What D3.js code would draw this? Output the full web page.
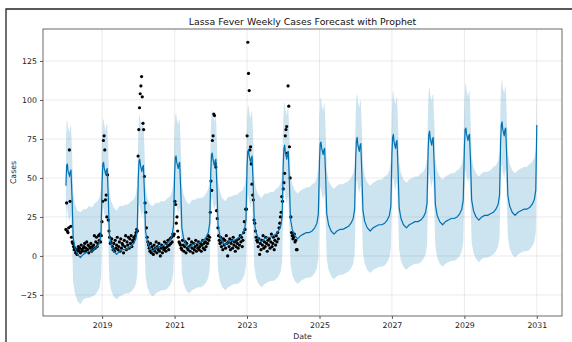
<!DOCTYPE html>
<html>
<head>
<meta charset="utf-8">
<script src="https://cdn.jsdelivr.net/npm/d3@7"></script>
<style>
body { margin: 0; background: #fff; }
svg { display: block; font-family: "DejaVu Sans", sans-serif; }
</style>
</head>
<body>
<svg id="chart" width="572" height="342"></svg>
<script>
// observed weekly cases, weeks counted from 2018-01-01
cases2018 = [17, 34, 16, 15, 18, 68, 35, 19, 12, 9, 8, 6, 4, 5, 2, 3, 1, 4, 6, 3, 5, 2, 7, 4, 3, 5, 6, 8, 3, 5, 9, 4, 7, 2, 6, 5, 8, 3, 6, 4, 7, 13, 5, 9, 12, 6, 8, 13, 10, 14, 9, 13];
cases2019 = [22, 35, 74, 77, 68, 36, 39, 25, 52, 23, 16, 12, 8, 9, 11, 6, 4, 8, 3, 10, 5, 7, 12, 4, 6, 9, 3, 11, 5, 8, 7, 2, 10, 6, 13, 4, 9, 7, 12, 5, 11, 8, 13, 6, 10, 9, 12, 11, 13, 15, 17, 16];
cases2020 = [64, 81, 95, 104, 109, 115, 102, 85, 81, 51, 34, 28, 18, 12, 9, 7, 5, 3, 8, 2, 6, 4, 1, 7, 3, 5, 9, 2, 6, 4, 8, 3, 0, 5, 7, 2, 6, 4, 9, 5, 3, 8, 6, 10, 4, 7, 11, 8, 12, 9, 14, 13];
cases2021 = [14, 35, 33, 21, 25, 16, 12, 9, 8, 7, 5, 4, 10, 7, 3, 6, 9, 2, 8, 5, 4, 11, 6, 3, 7, 9, 5, 2, 8, 4, 6, 10, 3, 7, 5, 9, 4, 6, 8, 3, 7, 10, 5, 8, 4, 9, 6, 11, 8, 13, 10, 12];
cases2022 = [28, 48, 42, 74, 77, 91, 90, 59, 57, 29, 24, 18, 13, 10, 8, 12, 6, 9, 4, 11, 7, 10, 5, 13, 8, 0, 9, 6, 11, 4, 8, 10, 5, 12, 7, 9, 3, 6, 10, 8, 5, 11, 7, 13, 9, 12, 6, 10, 15, 22, 17, 30];
cases2023 = [30, 77, 137, 117, 106, 68, 70, 59, 46, 39, 36, 23, 21, 16, 12, 10, 9, 6, 11, 1, 8, 4, 10, 7, 13, 5, 9, 6, 12, 8, 3, 10, 7, 11, 5, 9, 14, 6, 8, 12, 4, 10, 7, 13, 9, 15, 11, 18, 21, 25, 28, 38];
cases2024 = [35, 43, 47, 53, 77, 81, 83, 66, 109, 96, 70, 50, 25, 15, 13, 11, 12, 14, 9, 10, 4, 4];

// forecast sampled at these fractions of each year
seasonFrac = [0.00, 0.02, 0.04, 0.06, 0.08, 0.10, 0.12, 0.14, 0.17, 0.20, 0.25, 0.32, 0.40, 0.48, 0.56, 0.64, 0.72, 0.80, 0.87, 0.93, 0.97];
fcYears = [2018, 2019, 2020, 2021, 2022, 2023, 2024, 2025, 2026, 2027, 2028, 2029, 2030];

yhatByYear = [
    [45, 58, 59, 54, 53, 51, 54, 55, 37, 12, 5, 1, -1, 1, 2, 3, 3, 5, 6, 9, 15],
    [48, 59, 60, 56, 54, 52, 55, 56, 38, 14, 7, 3, 1, 3, 4, 4, 5, 6, 8, 11, 17],
    [50, 61, 62, 58, 56, 54, 57, 58, 40, 16, 9, 5, 3, 5, 6, 6, 7, 8, 10, 13, 19],
    [52, 63, 64, 60, 58, 56, 59, 60, 42, 18, 11, 7, 5, 7, 8, 8, 9, 10, 12, 15, 21],
    [54, 65, 66, 62, 60, 58, 61, 62, 44, 20, 13, 9, 7, 9, 10, 10, 11, 12, 14, 17, 23],
    [56, 67, 68, 64, 62, 60, 63, 64, 46, 22, 15, 11, 9, 11, 12, 12, 13, 14, 16, 19, 25],
    [58, 69, 71, 66, 64, 62, 66, 67, 48, 24, 17, 13, 11, 13, 14, 15, 15, 16, 18, 21, 27],
    [61, 72, 73, 69, 67, 65, 68, 69, 51, 27, 20, 16, 14, 16, 17, 17, 18, 19, 21, 24, 30],
    [63, 74, 76, 71, 69, 67, 71, 72, 53, 29, 22, 18, 16, 18, 19, 20, 20, 21, 23, 26, 32],
    [65, 76, 78, 73, 71, 69, 73, 74, 55, 31, 24, 20, 18, 20, 21, 22, 22, 23, 25, 28, 34],
    [67, 78, 80, 75, 73, 71, 75, 76, 57, 33, 26, 22, 20, 22, 23, 24, 24, 25, 27, 30, 36],
    [70, 81, 82, 78, 76, 74, 77, 78, 60, 36, 29, 25, 23, 25, 26, 26, 27, 28, 30, 33, 39],
    [73, 84, 86, 81, 79, 77, 81, 82, 63, 39, 32, 28, 26, 28, 29, 30, 30, 31, 33, 36, 42]
];
upperByYear = [
    [72, 86, 87, 82, 81, 79, 83, 84, 66, 41, 33, 29, 28, 30, 30, 32, 31, 34, 35, 38, 44],
    [76, 87, 88, 84, 82, 80, 84, 85, 67, 43, 35, 31, 29, 32, 32, 33, 33, 35, 36, 39, 46],
    [78, 89, 91, 86, 84, 82, 86, 87, 68, 45, 37, 33, 32, 34, 34, 35, 35, 37, 38, 41, 48],
    [80, 90, 92, 88, 86, 84, 87, 88, 70, 46, 39, 35, 33, 36, 36, 37, 37, 38, 40, 43, 49],
    [82, 92, 94, 90, 88, 86, 89, 90, 72, 48, 41, 37, 35, 38, 38, 39, 39, 41, 42, 45, 51],
    [84, 95, 97, 92, 90, 88, 92, 93, 75, 50, 43, 39, 37, 40, 40, 41, 41, 43, 44, 47, 53],
    [86, 97, 99, 94, 92, 90, 94, 95, 77, 53, 46, 42, 40, 42, 43, 44, 44, 46, 47, 50, 56],
    [89, 100, 102, 97, 95, 93, 97, 98, 80, 56, 48, 45, 43, 45, 46, 46, 47, 48, 50, 53, 58],
    [91, 102, 104, 99, 97, 95, 99, 100, 82, 58, 51, 47, 45, 47, 48, 49, 49, 51, 52, 55, 61],
    [93, 104, 106, 101, 99, 97, 101, 102, 84, 60, 53, 49, 47, 49, 50, 51, 51, 53, 54, 57, 63],
    [95, 106, 108, 103, 101, 99, 103, 104, 86, 62, 55, 51, 49, 51, 52, 53, 53, 55, 56, 59, 65],
    [98, 109, 111, 106, 104, 102, 105, 106, 88, 64, 57, 53, 51, 53, 54, 54, 55, 57, 58, 61, 67],
    [100, 111, 113, 108, 106, 104, 108, 109, 90, 66, 59, 55, 53, 55, 56, 57, 57, 59, 60, 63, 68]
];
lowerByYear = [
    [16, 29, 31, 25, 24, 22, 25, 26, 8, -17, -24, -29, -31, -28, -27, -27, -26, -25, -23, -20, -13],
    [19, 30, 31, 27, 25, 23, 26, 27, 9, -15, -22, -26, -28, -26, -25, -24, -24, -23, -21, -18, -12],
    [21, 32, 33, 29, 27, 25, 28, 29, 11, -13, -20, -24, -26, -24, -23, -22, -22, -21, -19, -16, -10],
    [23, 34, 35, 31, 29, 27, 30, 31, 13, -11, -18, -22, -24, -22, -21, -20, -20, -19, -17, -14, -8],
    [25, 36, 37, 33, 31, 29, 32, 33, 15, -9, -16, -20, -22, -20, -19, -18, -18, -17, -15, -12, -6],
    [27, 38, 39, 35, 33, 31, 34, 35, 17, -7, -14, -18, -20, -18, -17, -16, -16, -15, -13, -10, -4],
    [29, 40, 42, 37, 35, 33, 37, 38, 19, -5, -12, -16, -18, -16, -15, -14, -14, -13, -11, -8, -2],
    [32, 43, 44, 40, 38, 36, 39, 40, 22, -2, -9, -13, -15, -13, -12, -12, -11, -10, -8, -5, 1],
    [36, 47, 49, 44, 42, 40, 44, 45, 26, 2, -5, -9, -11, -9, -8, -7, -7, -6, -4, -1, 5],
    [38, 49, 51, 46, 44, 42, 46, 47, 28, 4, -3, -7, -9, -7, -6, -5, -5, -4, -2, 1, 7],
    [40, 51, 53, 48, 46, 44, 48, 49, 30, 6, -1, -5, -7, -5, -4, -3, -3, -2, 0, 3, 9],
    [43, 54, 55, 51, 49, 47, 50, 51, 33, 9, 2, -2, -4, -2, -1, -1, 0, 1, 3, 6, 12],
    [46, 57, 59, 54, 52, 50, 54, 55, 36, 12, 5, 1, -1, 1, 2, 3, 3, 4, 6, 9, 15]
];
// last forecast row, 2031-01-01
lastYhat = 84;
lastUpper = 110;
lastLower = 57;

xTickYears = [2019, 2021, 2023, 2025, 2027, 2029, 2031];
yTicks = [-25, 0, 25, 50, 75, 100, 125];

LEFT = 43
RIGHT = 562
TOP = 29
BOTTOM = 316

function yearFracDate(year, f) {
    var start = new Date(year, 0, 1);
    return new Date(start.getTime() + f * 365.25 * 864e5);
}

var observed = [].concat(cases2018, cases2019, cases2020, cases2021, cases2022, cases2023, cases2024)
    .map(function (v, i) { return { ds: d3.timeDay.offset(new Date(2018, 0, 1), 7 * i), y: v }; });

var forecast = [];
fcYears.forEach(function (yr, k) {
    seasonFrac.forEach(function (f, j) {
        forecast.push({ ds: yearFracDate(yr, f), yhat: yhatByYear[k][j], lower: lowerByYear[k][j], upper: upperByYear[k][j] });
    });
});
forecast.push({ ds: new Date(2031, 0, 1), yhat: lastYhat, lower: lastLower, upper: lastUpper });

var x = d3.scaleTime().domain([new Date(2017, 4, 15), new Date(2031, 8, 12)]).range([LEFT, RIGHT]);
var y = d3.scaleLinear().domain([-38.5, 145.5]).range([BOTTOM, TOP]);

var svg = d3.select("#chart");

// figure frame
svg.append("path")
    .attr("d", "M6,342V9H572")
    .attr("fill", "none")
    .attr("stroke", "#222")
    .attr("stroke-width", 1.3);

// uncertainty band
svg.append("path")
    .datum(forecast)
    .attr("fill", "#0072B2")
    .attr("fill-opacity", 0.2)
    .attr("d", d3.area()
        .x(function (d) { return x(d.ds); })
        .y0(function (d) { return y(d.lower); })
        .y1(function (d) { return y(d.upper); }));

// grid
var xTickDates = xTickYears.map(function (yr) { return new Date(yr, 0, 1); });
var grid = svg.append("g").attr("stroke", "gray").attr("stroke-opacity", 0.2).attr("stroke-width", 0.8);
grid.selectAll(".gx").data(xTickDates).enter().append("line")
    .attr("x1", function (d) { return x(d); }).attr("x2", function (d) { return x(d); })
    .attr("y1", TOP).attr("y2", BOTTOM);
grid.selectAll(".gy").data(yTicks).enter().append("line")
    .attr("y1", function (d) { return y(d); }).attr("y2", function (d) { return y(d); })
    .attr("x1", LEFT).attr("x2", RIGHT);

// observed points
svg.append("g")
    .selectAll("circle")
    .data(observed)
    .enter().append("circle")
    .attr("cx", function (d) { return x(d.ds); })
    .attr("cy", function (d) { return y(d.y); })
    .attr("r", 1.6)
    .attr("fill", "black");

// forecast line
svg.append("path")
    .datum(forecast)
    .attr("fill", "none")
    .attr("stroke", "#0072B2")
    .attr("stroke-width", 1.2)
    .attr("stroke-linejoin", "round")
    .attr("d", d3.line()
        .x(function (d) { return x(d.ds); })
        .y(function (d) { return y(d.yhat); }));

// axes
var xAxis = svg.append("g")
    .attr("transform", "translate(0," + BOTTOM + ")")
    .call(d3.axisBottom(x).tickValues(xTickDates).tickFormat(d3.timeFormat("%Y")).tickSize(3).tickPadding(3));
var yAxis = svg.append("g")
    .attr("transform", "translate(" + LEFT + ",0)")
    .call(d3.axisLeft(y).tickValues(yTicks).tickSize(3).tickPadding(3));
[xAxis, yAxis].forEach(function (a) {
    a.select(".domain").remove();
    a.selectAll(".tick line").attr("stroke", "#333").attr("stroke-width", 0.8);
    a.selectAll(".tick text").attr("fill", "#222").style("font-size", "7.8px").style("font-family", "DejaVu Sans");
});

// spines
svg.append("rect")
    .attr("x", LEFT).attr("y", TOP)
    .attr("width", RIGHT - LEFT).attr("height", BOTTOM - TOP)
    .attr("fill", "none")
    .attr("stroke", "#444")
    .attr("stroke-width", 0.8);

// labels
svg.append("text")
    .attr("x", (LEFT + RIGHT) / 2).attr("y", 25)
    .attr("text-anchor", "middle")
    .attr("fill", "#111")
    .style("font-size", "9.4px")
    .text("Lassa Fever Weekly Cases Forecast with Prophet");

svg.append("text")
    .attr("x", (LEFT + RIGHT) / 2).attr("y", 339)
    .attr("text-anchor", "middle")
    .attr("fill", "#222")
    .style("font-size", "7.8px")
    .text("Date");

svg.append("text")
    .attr("transform", "translate(16," + (TOP + BOTTOM) / 2 + ") rotate(-90)")
    .attr("text-anchor", "middle")
    .attr("fill", "#222")
    .style("font-size", "7.8px")
    .text("Cases");
</script>
</body>
</html>
